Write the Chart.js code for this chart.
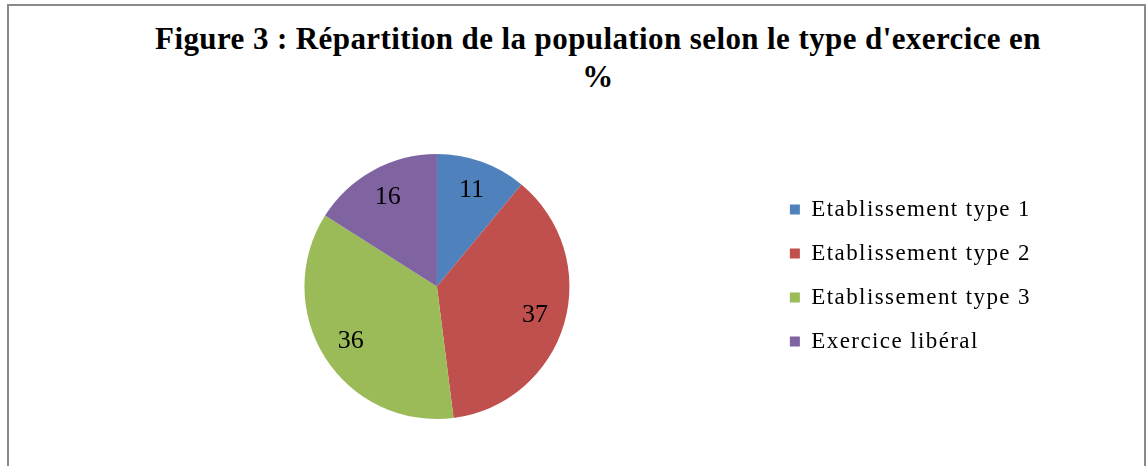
<!DOCTYPE html>
<html lang="fr">
<head>
<meta charset="utf-8">
<title>Figure 3</title>
<script src="https://cdn.jsdelivr.net/npm/chart.js@4/dist/chart.umd.min.js"></script>
<style>
  html, body { margin: 0; padding: 0; background: #fff; overflow: hidden; }
  #cadre {
    position: absolute; left: 7px; top: 4px;
    width: 1135px; height: 600px;
    border: 2px solid #8a8a8a; box-sizing: content-box;
  }
  #titre {
    position: absolute; left: 48px; top: 20px; width: 1100px;
    text-align: center; white-space: nowrap;
    font-family: "Liberation Serif", "Times New Roman", serif;
    font-weight: bold; font-size: 31px; line-height: 38px;
    letter-spacing: 0.4px; color: #000;
  }
  #chartExercice { position: absolute; left: 0; top: 0; }
</style>
</head>
<body>
<div id="cadre"></div>
<div id="titre">Figure 3 : Répartition de la population selon le type d'exercice en<br>%</div>
<canvas id="chartExercice" width="1146" height="466"></canvas>
<script>
const categories = ["Etablissement type 1", "Etablissement type 2", "Etablissement type 3", "Exercice libéral"];
const pourcentages = [11, 37, 36, 16];
const couleurs = ["#4F81BD", "#C0504D", "#9BBB59", "#8064A2"];

// espacement des lettres de la légende (rendu Excel un peu étiré)
const espacement = {
  id: "espacement",
  beforeLayout(chart) { chart.ctx.letterSpacing = "1.4px"; },
  beforeDraw(chart) { chart.ctx.letterSpacing = "1.4px"; }
};

// valeurs écrites dans chaque part
const etiquettes = {
  id: "etiquettes",
  afterDatasetsDraw(chart) {
    const ctx = chart.ctx;
    const arcs = chart.getDatasetMeta(0).data;
    ctx.save();
    ctx.letterSpacing = "0px";
    ctx.font = "26px 'Liberation Serif', serif";
    ctx.fillStyle = "#000";
    ctx.textAlign = "center";
    ctx.textBaseline = "middle";
    arcs.forEach((arc, i) => {
      const { x, y, startAngle, endAngle, outerRadius } = arc.getProps(["x", "y", "startAngle", "endAngle", "outerRadius"], true);
      const milieu = (startAngle + endAngle) / 2;
      const r = outerRadius * 0.77;
      ctx.fillText(String(pourcentages[i]), x + Math.cos(milieu) * r, y + Math.sin(milieu) * r);
    });
    ctx.restore();
  }
};

new Chart(document.getElementById("chartExercice"), {
  type: "pie",
  data: {
    labels: categories,
    datasets: [{
      data: pourcentages,
      backgroundColor: couleurs,
      borderWidth: 0
    }]
  },
  options: {
    responsive: false,
    animation: false,
    devicePixelRatio: 1,
    layout: { padding: { left: 105, right: 105, top: 154, bottom: 47 } },
    plugins: {
      tooltip: { enabled: false },
      legend: {
        position: "right",
        align: "center",
        title: { display: true, text: "", font: { size: 10, lineHeight: 1 }, padding: { top: 0, bottom: -32 } },
        labels: {
          boxWidth: 10,
          boxHeight: 10,
          padding: 21,
          color: "#000",
          font: { family: "'Liberation Serif', serif", size: 23 }
        }
      }
    }
  },
  plugins: [espacement, etiquettes]
});
</script>
</body>
</html>
